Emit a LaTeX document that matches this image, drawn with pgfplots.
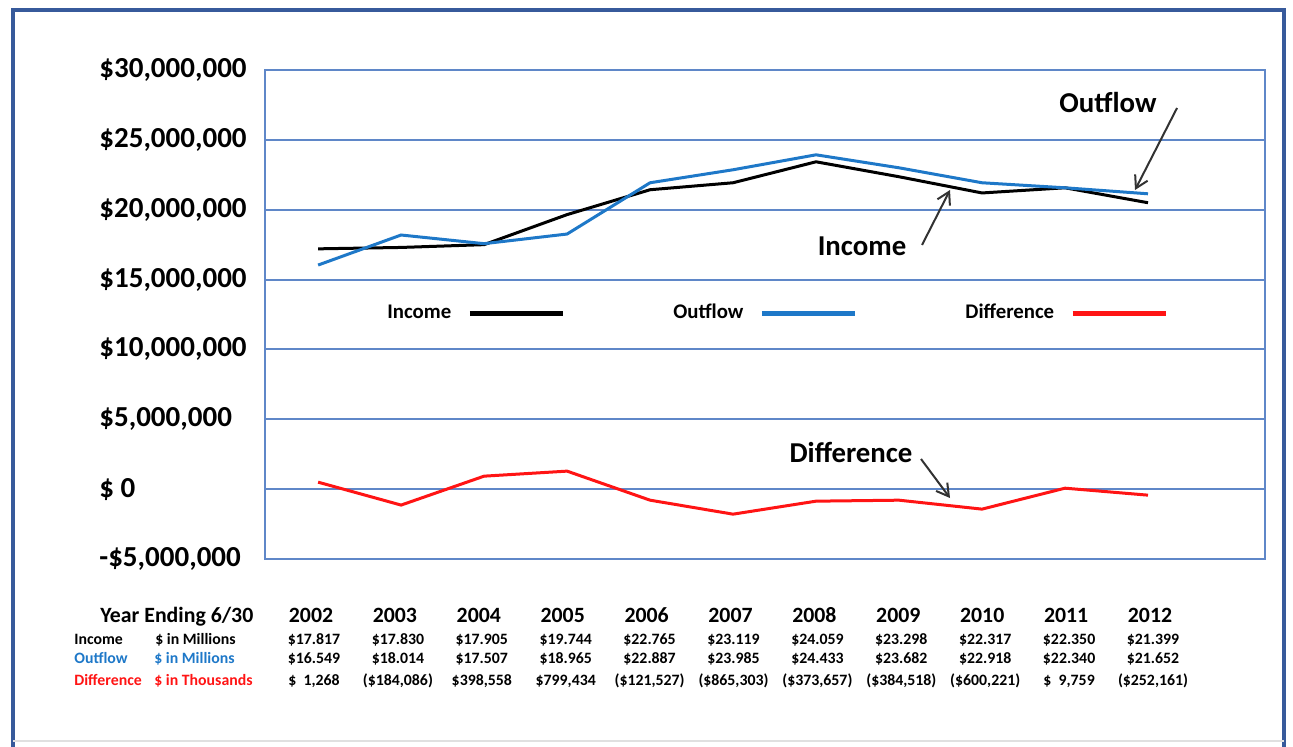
\documentclass[border=0pt]{standalone}
\usepackage{fontspec}
\setmainfont{Carlito}
\usepackage{pgfplots}
\pgfplotsset{compat=1.18}
\usetikzlibrary{arrows.meta}
\definecolor{gridblue}{RGB}{95,135,200}
\definecolor{frameblue}{RGB}{55,90,155}
\definecolor{outblue}{RGB}{30,120,200}
\definecolor{diffred}{RGB}{255,20,20}
\definecolor{arrowgray}{RGB}{50,50,50}
\begin{document}
\begin{tikzpicture}[x=0.5pt,y=0.5pt]
\path[use as bounding box] (0,0) rectangle (1293,746);
\draw[frameblue, line width=2pt] (13,-10) -- (13,736) -- (1284,736) -- (1284,-10);
\draw[black!12, line width=1pt] (13,5) -- (1284,5);
\begin{axis}[
  at={(132.5pt,93.5pt)}, anchor=south west,
  width=500pt, height=244.5pt, scale only axis,
  xmin=2001.36, xmax=2013.41,
  ymin=-5, ymax=30,
  xtick=\empty,
  ytick={-5,0,5,10,15,20,25,30},
  yticklabels={{-\$5,000,000},{\$ 0},{\$5,000,000},{\$10,000,000},{\$15,000,000},{\$20,000,000},{\$25,000,000},{\$30,000,000}},
  ymajorgrids, major grid style={gridblue, line width=1pt},
  axis line style={gridblue, line width=1pt},
  major tick length=0pt,
  yticklabel style={anchor=west, inner sep=0pt, xshift=-83pt, font=\bfseries\fontsize{14.5}{16}\selectfont},
  legend columns=3,
  legend plot pos=right,
  legend style={at={(0.118,0.503)}, anchor=west, draw=none, fill=none, inner sep=0pt,
    font=\bfseries\fontsize{10.4}{12}\selectfont,
    /tikz/every odd column/.append style={column sep=6pt},
    /tikz/every even column/.append style={column sep=52pt}},
  legend image code/.code={\draw[#1, line width=2.5pt] (0pt,0pt) -- (46.5pt,0pt);},
]
\addplot[black, line width=1.5pt] coordinates {(2002,17.2) (2003,17.3) (2004,17.5) (2005,19.65) (2006,21.43) (2007,21.93) (2008,23.43) (2009,22.36) (2010,21.2) (2011,21.57) (2012,20.5)};
\addlegendentry{Income}
\addplot[outblue, line width=1.5pt] coordinates {(2002,16.04) (2003,18.19) (2004,17.57) (2005,18.26) (2006,21.93) (2007,22.86) (2008,23.93) (2009,23.0) (2010,21.93) (2011,21.57) (2012,21.14)};
\addlegendentry{Outflow}
\addplot[diffred, line width=1.5pt] coordinates {(2002,0.5) (2003,-1.14) (2004,0.93) (2005,1.29) (2006,-0.79) (2007,-1.79) (2008,-0.86) (2009,-0.79) (2010,-1.43) (2011,0.07) (2012,-0.43)};
\addlegendentry{Difference}
\end{axis}
% annotations
\tikzset{ann/.style={font=\bfseries\fontsize{14.4}{16}\selectfont, inner sep=0pt},
         arr/.style={arrowgray, line width=1pt, -{Straight Barb[length=6pt,width=7pt]}}}
\node[ann] at (1108,643) {Outflow};
\draw[arr] (1177,638) -- (1135,556);
\node[ann] at (862,500) {Income};
\draw[arr] (922,501) -- (950,556);
\node[ann] at (851,294) {Difference};
\draw[arr] (921,287) -- (950,248);
% table
\tikzset{hd/.style={font=\bfseries\fontsize{10.9}{12}\selectfont, inner sep=0pt, anchor=base},
         rw/.style={font=\bfseries\fontsize{7.9}{9}\selectfont, inner sep=0pt, anchor=base}}
\node[hd, anchor=base west] at (100,124) {Year Ending 6/30};
\foreach \v [count=\i from 0] in {2002,2003,2004,2005,2006,2007,2008,2009,2010,2011,2012}
  \node[hd] at (311+83.9*\i,124) {\v};
\node[rw, anchor=base west] at (74,102) {Income};
\node[rw, anchor=base west] at (155,102) {\$ in Millions};
\node[rw, anchor=base west, text=outblue] at (74,83) {Outflow};
\node[rw, anchor=base west, text=outblue] at (154,83) {\$ in Millions};
\node[rw, anchor=base west, text=diffred] at (74,61) {Difference};
\node[rw, anchor=base west, text=diffred] at (154,61) {\$ in Thousands};
\foreach \v [count=\i from 0] in {\$17.817,\$17.830,\$17.905,\$19.744,\$22.765,\$23.119,\$24.059,\$23.298,\$22.317,\$22.350,\$21.399}
  \node[rw] at (314+83.9*\i,102) {\v};
\foreach \v [count=\i from 0] in {\$16.549,\$18.014,\$17.507,\$18.965,\$22.887,\$23.985,\$24.433,\$23.682,\$22.918,\$22.340,\$21.652}
  \node[rw] at (314+83.9*\i,83) {\v};
\foreach \v [count=\i from 0] in {{\$\ \ 1,268},{(\$184,086)},{\$398,558},{\$799,434},{(\$121,527)},{(\$865,303)},{(\$373,657)},{(\$384,518)},{(\$600,221)},{\$\ \ 9,759},{(\$252,161)}}
  \node[rw] at (314+83.9*\i,61) {\v};
\end{tikzpicture}
\end{document}
